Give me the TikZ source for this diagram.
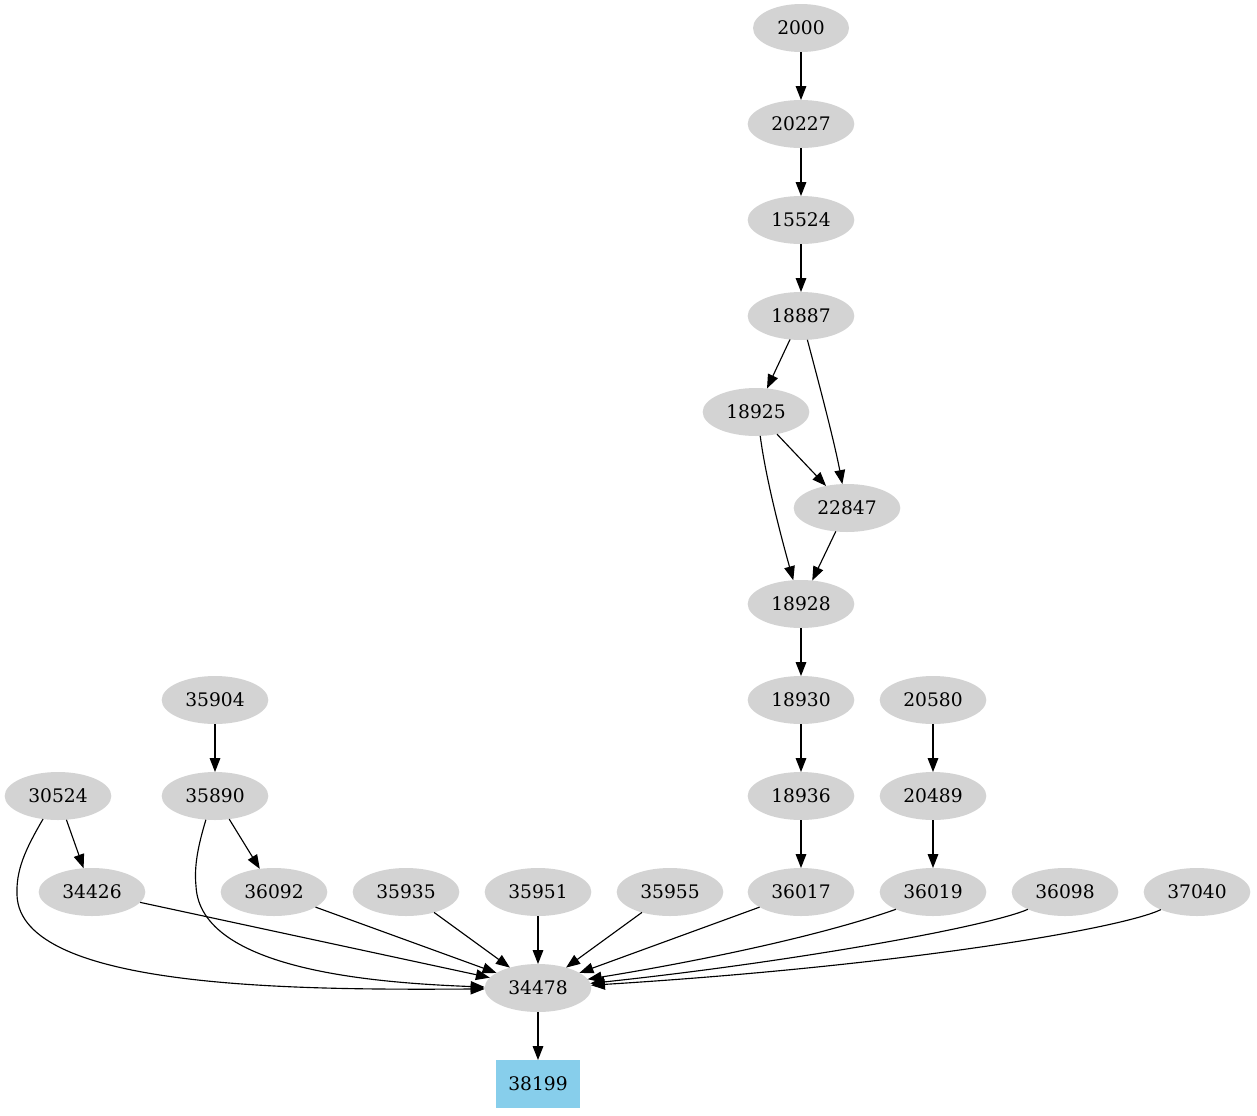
\documentclass[tikz,border=0pt]{standalone}
\usepackage{fontspec}
\setmainfont{DejaVu Serif}
\usetikzlibrary{shapes.geometric,arrows.meta}
\definecolor{nodegray}{RGB}{211,211,211}
\definecolor{boxblue}{RGB}{135,206,235}
\begin{document}
\begin{tikzpicture}[x=0.75pt,y=-0.75pt,
  gnode/.style={ellipse,fill=nodegray,minimum width=80pt,minimum height=36pt,inner sep=0pt,outer sep=0pt,font=\fontsize{14pt}{16pt}\selectfont},
  gbox/.style={rectangle,fill=boxblue,minimum width=63pt,minimum height=36pt,inner sep=0pt,outer sep=0pt,font=\fontsize{14pt}{16pt}\selectfont},
  edge/.style={draw=black,line width=0.85pt,-{Triangle[length=10.5pt,width=8pt]}}]
\useasboundingbox (0,0) rectangle (1257,1115);
% nodes
\node[gnode,minimum width=72pt] (n2000) at (801,28) {2000};
\node[gnode] (n20227) at (801,124) {20227};
\node[gnode] (n15524) at (801,220) {15524};
\node[gnode] (n18887) at (801,316) {18887};
\node[gnode] (n18925) at (756,412) {18925};
\node[gnode] (n22847) at (847,508) {22847};
\node[gnode] (n18928) at (801,604) {18928};
\node[gnode] (n18930) at (801,700) {18930};
\node[gnode] (n20580) at (933,700) {20580};
\node[gnode] (n35904) at (215,700) {35904};
\node[gnode] (n30524) at (58,796) {30524};
\node[gnode] (n35890) at (215,796) {35890};
\node[gnode] (n18936) at (801,796) {18936};
\node[gnode] (n20489) at (933,796) {20489};
\node[gnode] (n34426) at (92,892) {34426};
\node[gnode] (n36092) at (274,892) {36092};
\node[gnode] (n35935) at (406,892) {35935};
\node[gnode] (n35951) at (538,892) {35951};
\node[gnode] (n35955) at (670,892) {35955};
\node[gnode] (n36017) at (801,892) {36017};
\node[gnode] (n36019) at (933,892) {36019};
\node[gnode] (n36098) at (1065,892) {36098};
\node[gnode] (n37040) at (1197,892) {37040};
\node[gnode] (n34478) at (538,988) {34478};
\node[gbox] (n38199) at (538,1084) {38199};
% edges
\draw[edge] (n2000) -- (n20227);
\draw[edge] (n20227) -- (n15524);
\draw[edge] (n15524) -- (n18887);
\draw[edge] (n18887) -- (n18925);
\draw[edge] (n18887.285) .. controls (818,380) and (834,440) .. (n22847.101);
\draw[edge] (n18925) -- (n22847);
\draw[edge] (n18925.280) .. controls (766,480) and (782,540) .. (n18928.108);
\draw[edge] (n22847) -- (n18928);
\draw[edge] (n18928) -- (n18930);
\draw[edge] (n18930) -- (n18936);
\draw[edge] (n18936) -- (n36017);
\draw[edge] (n20580) -- (n20489);
\draw[edge] (n20489) -- (n36019);
\draw[edge] (n35904) -- (n35890);
\draw[edge] (n30524) -- (n34426);
\draw[edge] (n35890) -- (n36092);
\draw[edge] (n30524.237) .. controls (25,850) and (16,870) .. (17,895) .. controls (20,990) and (300,990) .. (n34478.181);
\draw[edge] (n35890.249) .. controls (198,846) and (194,866) .. (196,886) .. controls (200,971) and (380,983) .. (n34478.179);
\draw[edge] (n34426) -- (n34478);
\draw[edge] (n36092) -- (n34478);
\draw[edge] (n35935) -- (n34478);
\draw[edge] (n35951) -- (n34478);
\draw[edge] (n35955) -- (n34478);
\draw[edge] (n36017) -- (n34478);
\draw[edge] (n36019.205) .. controls (820,936) and (700,961) .. (n34478.10);
\draw[edge] (n36098.205) .. controls (990,926) and (800,961) .. (n34478.5);
\draw[edge] (n37040.206) .. controls (1120,929) and (900,966) .. (n34478.3);
\draw[edge] (n34478) -- (n38199);
\end{tikzpicture}
\end{document}
